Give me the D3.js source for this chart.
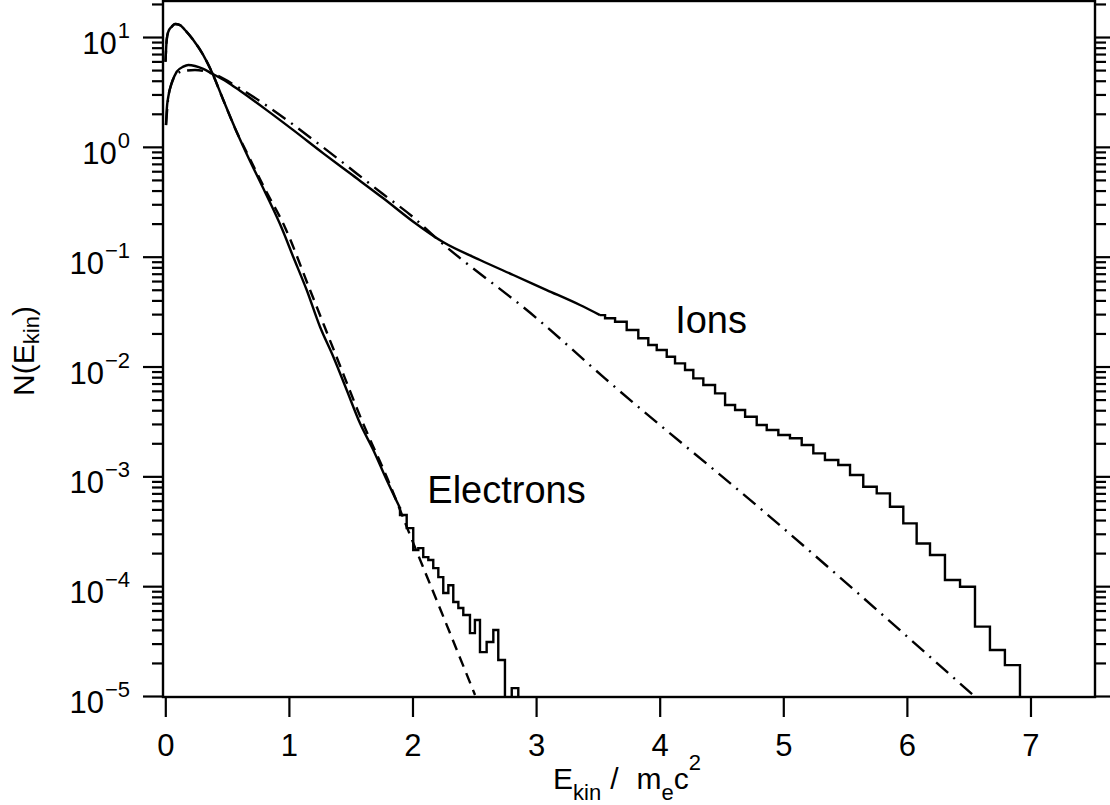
<!DOCTYPE html>
<html><head><meta charset="utf-8">
<script src="https://cdn.jsdelivr.net/npm/d3@7"></script>
<style>
body{margin:0;background:#fff;}
svg{display:block;}
text{font-family:"Liberation Sans",Arial,Helvetica,sans-serif;fill:#000;}
</style></head><body>
<svg id="c" width="1110" height="805"></svg>
<script>
// ---------- data ----------
// Electrons, simulated spectrum (smooth part)
const elecE = [0.0016,0.0113,0.0243,0.0518,0.0785,0.1189,0.1594,0.2265,0.3074,0.3754,0.4693,0.5777,0.6586,0.8066,0.9417,1.0356,1.1440,1.2516,1.3592,1.4676,1.5753,1.6828,1.7913,1.8989];
const elecN = [5.96,9.40,11.17,12.42,13.12,12.85,11.59,9.40,6.85,4.83,2.67,1.365,0.861,0.388,0.1824,0.0993,0.0497,0.0230,0.01227,0.00611,0.00304,0.001738,0.000925,0.000514];
// Electrons, histogram tail (bin edges and counts; 0 = empty bin)
const elecTailEdges = [1.899,1.953,2.006,2.047,2.087,2.128,2.168,2.209,2.249,2.290,2.330,2.371,2.411,2.465,2.505,2.546,2.600,2.654,2.694,2.748,2.803,2.856];
const elecTailN = [4.45e-4,3.38e-4,2.13e-4,2.22e-4,1.84e-4,1.73e-4,1.46e-4,1.21e-4,8.67e-5,1.02e-4,7.18e-5,6.32e-5,5.46e-5,3.74e-5,4.92e-5,2.51e-5,3.10e-5,3.99e-5,2.13e-5,0,1.18e-5];
// Electrons, fit (dashed)
const elecFitE = [0.0016,0.0113,0.0243,0.0518,0.0785,0.1189,0.1594,0.2265,0.3074,0.3754,0.4693,0.5777,0.6586,0.8066,0.966,1.171,1.385,1.600,1.802,1.964,2.231,2.506];
const elecFitN = [5.96,9.40,11.17,12.42,13.12,12.85,11.59,9.40,6.85,4.83,2.67,1.365,0.891,0.412,0.1875,0.0497,0.01227,0.00304,0.000925,0.000324,5.94e-5,1.021e-5];
// Ions, simulated spectrum (smooth part)
const ionE = [0.0057,0.0113,0.0243,0.0518,0.0922,0.1456,0.1861,0.2403,0.3074,0.3754,0.4968,0.6044,0.8204,1.0356,1.2783,1.4943,1.7638,2.0065,2.2468,2.5461,2.8155,3.0858,3.3552,3.5170];
const ionN = [1.58,2.16,2.86,3.78,4.83,5.37,5.56,5.45,5.12,4.67,3.92,3.24,2.16,1.42,0.873,0.574,0.340,0.208,0.1358,0.0933,0.0681,0.0497,0.0363,0.0294];
// Ions, histogram tail (bin edges and counts)
const ionTailEdges = [3.517,3.558,3.639,3.733,3.827,3.908,3.976,4.057,4.124,4.205,4.272,4.353,4.448,4.529,4.610,4.691,4.785,4.866,4.960,5.054,5.149,5.243,5.337,5.445,5.540,5.647,5.756,5.863,5.971,6.079,6.187,6.308,6.430,6.551,6.672,6.793,6.915];
const ionTailN = [0.0294,0.0275,0.0256,0.0215,0.01807,0.01570,0.01413,0.01227,0.01069,0.00929,0.00780,0.00678,0.00570,0.00446,0.00402,0.00349,0.00293,0.00264,0.00238,0.00222,0.00193,0.00162,0.00141,0.001268,0.001028,0.000804,0.000700,0.000528,0.000373,0.000245,0.000192,0.0001138,0.0000989,0.0000428,0.0000262,0.0000191];
// Ions, fit (dash-dot)
const ionFitE = [0.0057,0.022,0.046,0.087,0.146,0.240,0.375,0.604,0.847,1.252,1.761,2.004,2.182,3.005,3.557,4.866,6.535];
const ionFitN = [1.58,2.67,3.66,4.51,4.90,5.01,4.67,3.41,2.26,1.040,0.372,0.2296,0.1510,0.0275,0.00780,0.000454,1.021e-5];
// axes
const xTicks = [0,1,2,3,4,5,6,7];
const yExponents = [1,0,-1,-2,-3,-4,-5];
const yExpLabels = ["1","0","\u22121","\u22122","\u22123","\u22124","\u22125"];
const textLabels = [{t:"Ions",E:4.125,N:0.0202},{t:"Electrons",E:2.12,N:5.7e-4}];

// ---------- layout ----------
const L=163,R=1095,T=1,B=697;
const SW=2.4;
const svg=d3.select("#c");
const x=d3.scaleLinear().domain([-0.0186,7.522]).range([L,R]);
const y=d3.scaleLog().domain([Math.pow(10,-5.009),Math.pow(10,1.328)]).range([B,T]);

svg.append("defs").append("clipPath").attr("id","clip")
  .append("rect").attr("x",L).attr("y",T).attr("width",R-L).attr("height",B-T);

const g=svg.append("g").attr("clip-path","url(#clip)");
const yv=v=>y(Math.max(v,1e-7));

const smooth=d3.line().x(d=>x(d[0])).y(d=>yv(d[1])).curve(d3.curveMonotoneX);
const steps=d3.line().x(d=>x(d[0])).y(d=>yv(d[1])).curve(d3.curveStepAfter);

function drawSmooth(E,N,dash){
  g.append("path").datum(E.map((e,i)=>[e,N[i]])).attr("d",smooth)
   .attr("fill","none").attr("stroke","#000").attr("stroke-width",SW)
   .attr("stroke-dasharray",dash||null);
}
function drawSteps(startPt,edges,N){
  const pts=[];
  if(startPt) pts.push(startPt);
  N.forEach((n,i)=>pts.push([edges[i],n]));
  pts.push([edges[edges.length-1],0]);
  g.append("path").datum(pts).attr("d",steps)
   .attr("fill","none").attr("stroke","#000").attr("stroke-width",SW);
}
drawSmooth(ionFitE,ionFitN,"16,7,2,7");
drawSmooth(elecFitE,elecFitN,"11,7");
drawSmooth(ionE,ionN);
drawSteps(null,ionTailEdges,ionTailN);
drawSmooth(elecE,elecN);
drawSteps([elecE[elecE.length-1],elecN[elecN.length-1]],elecTailEdges,elecTailN);

// frame
svg.append("rect").attr("x",L).attr("y",T).attr("width",R-L).attr("height",B-T)
  .attr("fill","none").attr("stroke","#000").attr("stroke-width",2.4);

// y ticks
const majors=yExponents.map(k=>Math.pow(10,k));
const minors=[];
for(let k=-5;k<=1;k++) for(let m=2;m<=9;m++){const v=m*Math.pow(10,k); if(v<=y.domain()[1]) minors.push(v);}
function styleAxis(sel){sel.select(".domain").remove(); sel.selectAll("line").attr("stroke-width",2.2);}
svg.append("g").attr("transform",`translate(${L},0)`).call(d3.axisLeft(y).tickValues(majors).tickSize(20).tickFormat("")).call(styleAxis);
svg.append("g").attr("transform",`translate(${L},0)`).call(d3.axisLeft(y).tickValues(minors).tickSize(11).tickFormat("")).call(styleAxis);
svg.append("g").attr("transform",`translate(${R},0)`).call(d3.axisRight(y).tickValues(majors).tickSize(20).tickFormat("")).call(styleAxis);
svg.append("g").attr("transform",`translate(${R},0)`).call(d3.axisRight(y).tickValues(minors).tickSize(11).tickFormat("")).call(styleAxis);

// y tick labels
yExponents.forEach((k,i)=>{
  const yy=y(Math.pow(10,k));
  const t=svg.append("text").attr("x",130).attr("y",yy+17).attr("text-anchor","end").style("font-size","31px");
  t.append("tspan").text("10");
  t.append("tspan").attr("dx",1).attr("dy",-16).style("font-size","22px").text(yExpLabels[i]);
});

// x axis
const xa=svg.append("g").attr("transform",`translate(0,${B})`)
  .call(d3.axisBottom(x).tickValues(xTicks).tickSize(20).tickFormat(d3.format("d")));
xa.select(".domain").remove();
xa.selectAll("line").attr("stroke-width",2.2);
xa.selectAll("text").attr("y",59).attr("dy",null).style("font-size","31px")
  .style("font-family",'"Liberation Sans",Arial,sans-serif').attr("fill","#000");

// axis titles
const xt=svg.append("text").attr("x",553).attr("y",789).style("font-size","30px");
xt.append("tspan").text("E");
xt.append("tspan").attr("dy",11).style("font-size","22px").text("kin");
xt.append("tspan").attr("dy",-11).attr("dx",9).text("/");
xt.append("tspan").attr("dx",18).text("m");
xt.append("tspan").attr("dy",11).style("font-size","22px").text("e");
xt.append("tspan").attr("dy",-11).text("c");
xt.append("tspan").attr("dy",-19).style("font-size","22px").text("2");

const yt=svg.append("text").attr("transform","translate(34,351) rotate(-90)")
  .attr("text-anchor","middle").style("font-size","30px");
yt.append("tspan").text("N(E");
yt.append("tspan").attr("dy",5).style("font-size","22px").text("kin");
yt.append("tspan").attr("dy",-5).text(")");

// curve labels
textLabels.forEach(d=>{
  svg.append("text").attr("x",x(d.E)).attr("y",y(d.N)).style("font-size","38px").text(d.t);
});
</script>
</body></html>
